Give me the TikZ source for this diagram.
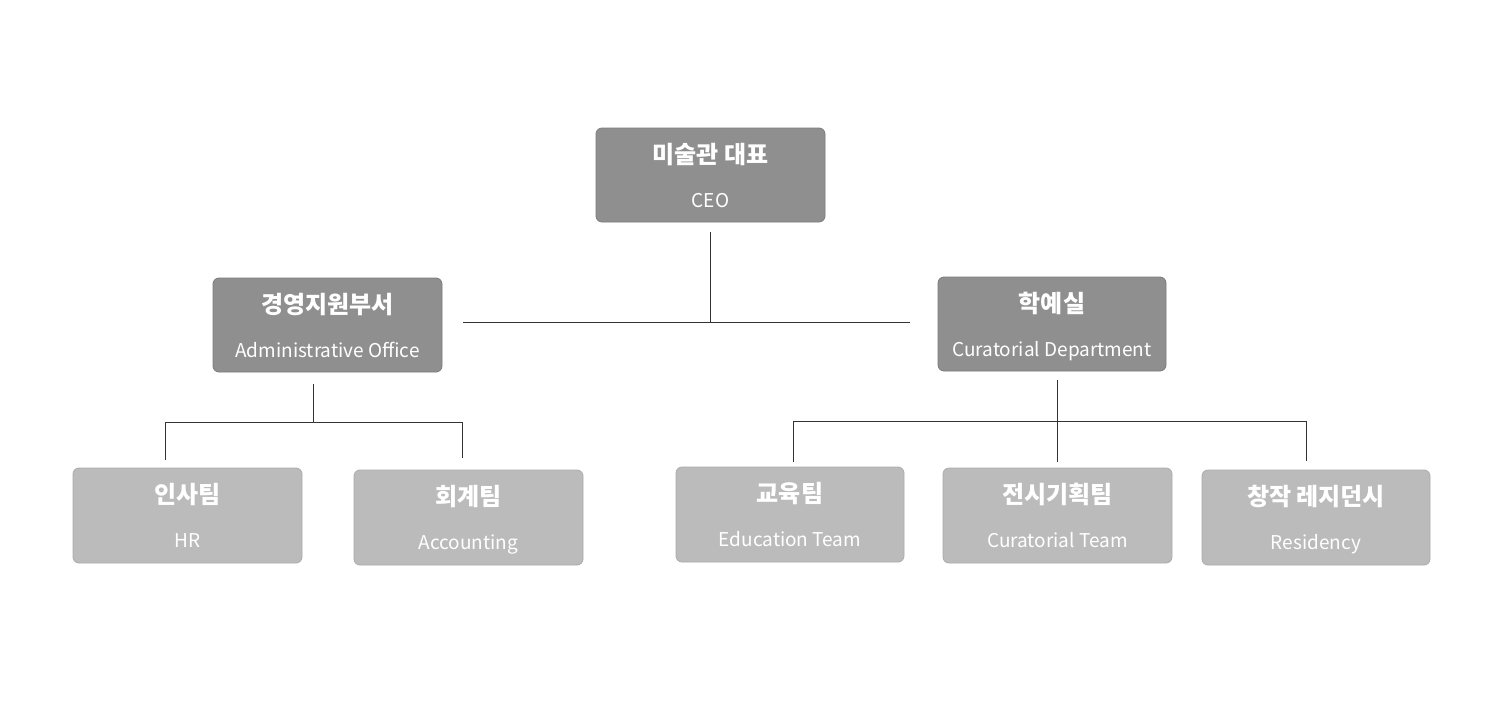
\documentclass[tikz,border=0pt]{standalone}
\usepackage{fontspec}
\newfontfamily\kr{Noto Sans CJK KR}
\definecolor{darkbox}{HTML}{8F8F8F}
\definecolor{darkedge}{HTML}{7C7C7C}
\definecolor{lightbox}{HTML}{BBBBBB}
\definecolor{lightedge}{HTML}{ABABAB}
\definecolor{linec}{HTML}{333333}
\begin{document}
\begin{tikzpicture}[x=1pt,y=-1pt,
  boxshape/.style={rounded corners=6pt,line width=0.8pt},
  darkunit/.style={boxshape,fill=darkbox,draw=darkedge},
  lightunit/.style={boxshape,fill=lightbox,draw=lightedge},
  kotext/.style={text=white,font=\kr\bfseries\fontsize{24}{28}\selectfont,inner sep=0pt,anchor=base},
  entext/.style={text=white,font=\kr\fontsize{19}{22}\selectfont,inner sep=0pt,anchor=base},
  conn/.style={draw=linec,line width=0.9pt}]
\fill[white] (0,0) rectangle (1492,720);
\useasboundingbox (0,0) rectangle (1492,720);
% boxes: name, style, x1,y1,x2,y2, korean, english
\newcommand{\unitbox}[8]{%
  \path[#2] (#3,#4) rectangle (#5,#6);
  \coordinate (#1) at ({(#3+#5)/2},{(#4+#6)/2});
  \node[kotext] (#1-ko) at ({(#3+#5)/2},{#4+35}) {#7};
  \node[entext] (#1-en) at ({(#3+#5)/2},{#4+79}) {#8};
}
\unitbox{ceo}{darkunit}{596}{128}{825}{222}{미술관 대표}{CEO}
\unitbox{adm}{darkunit}{213}{278}{442}{372}{경영지원부서}{Administrative Office}
\unitbox{cur}{darkunit}{938}{277}{1166}{371}{학예실}{Curatorial Department}
\unitbox{hr}{lightunit}{73}{468}{302}{563}{인사팀}{HR}
\unitbox{acc}{lightunit}{354}{470}{583}{565}{회계팀}{Accounting}
\unitbox{edu}{lightunit}{676}{467}{904}{562}{교육팀}{Education Team}
\unitbox{ct}{lightunit}{943}{468}{1172}{563}{전시기획팀}{Curatorial Team}
\unitbox{res}{lightunit}{1202}{470}{1430}{565}{창작 레지던시}{Residency}
% connector coordinates
\coordinate (ceo-s) at (710,232);
\coordinate (top-j) at (710,322);
\coordinate (top-l) at (463,322);
\coordinate (top-r) at (910,322);
\coordinate (adm-s) at (313,384);
\coordinate (adm-j) at (313,422);
\coordinate (adm-l) at (165,422);
\coordinate (adm-r) at (462,422);
\coordinate (hr-n) at (165,460);
\coordinate (acc-n) at (462,458);
\coordinate (cur-s) at (1057,380);
\coordinate (cur-j) at (1057,421);
\coordinate (cur-l) at (793,421);
\coordinate (cur-r) at (1306,421);
\coordinate (edu-n) at (793,462);
\coordinate (ct-n) at (1057,462);
\coordinate (res-n) at (1306,461);
\draw[conn] (ceo-s) -- (top-j);
\draw[conn] (top-l) -- (top-r);
\draw[conn] (adm-s) -- (adm-j);
\draw[conn] (hr-n) -- (adm-l) -- (adm-r) -- (acc-n);
\draw[conn] (cur-s) -- (ct-n);
\draw[conn] (edu-n) -- (cur-l) -- (cur-r) -- (res-n);
\end{tikzpicture}
\end{document}
